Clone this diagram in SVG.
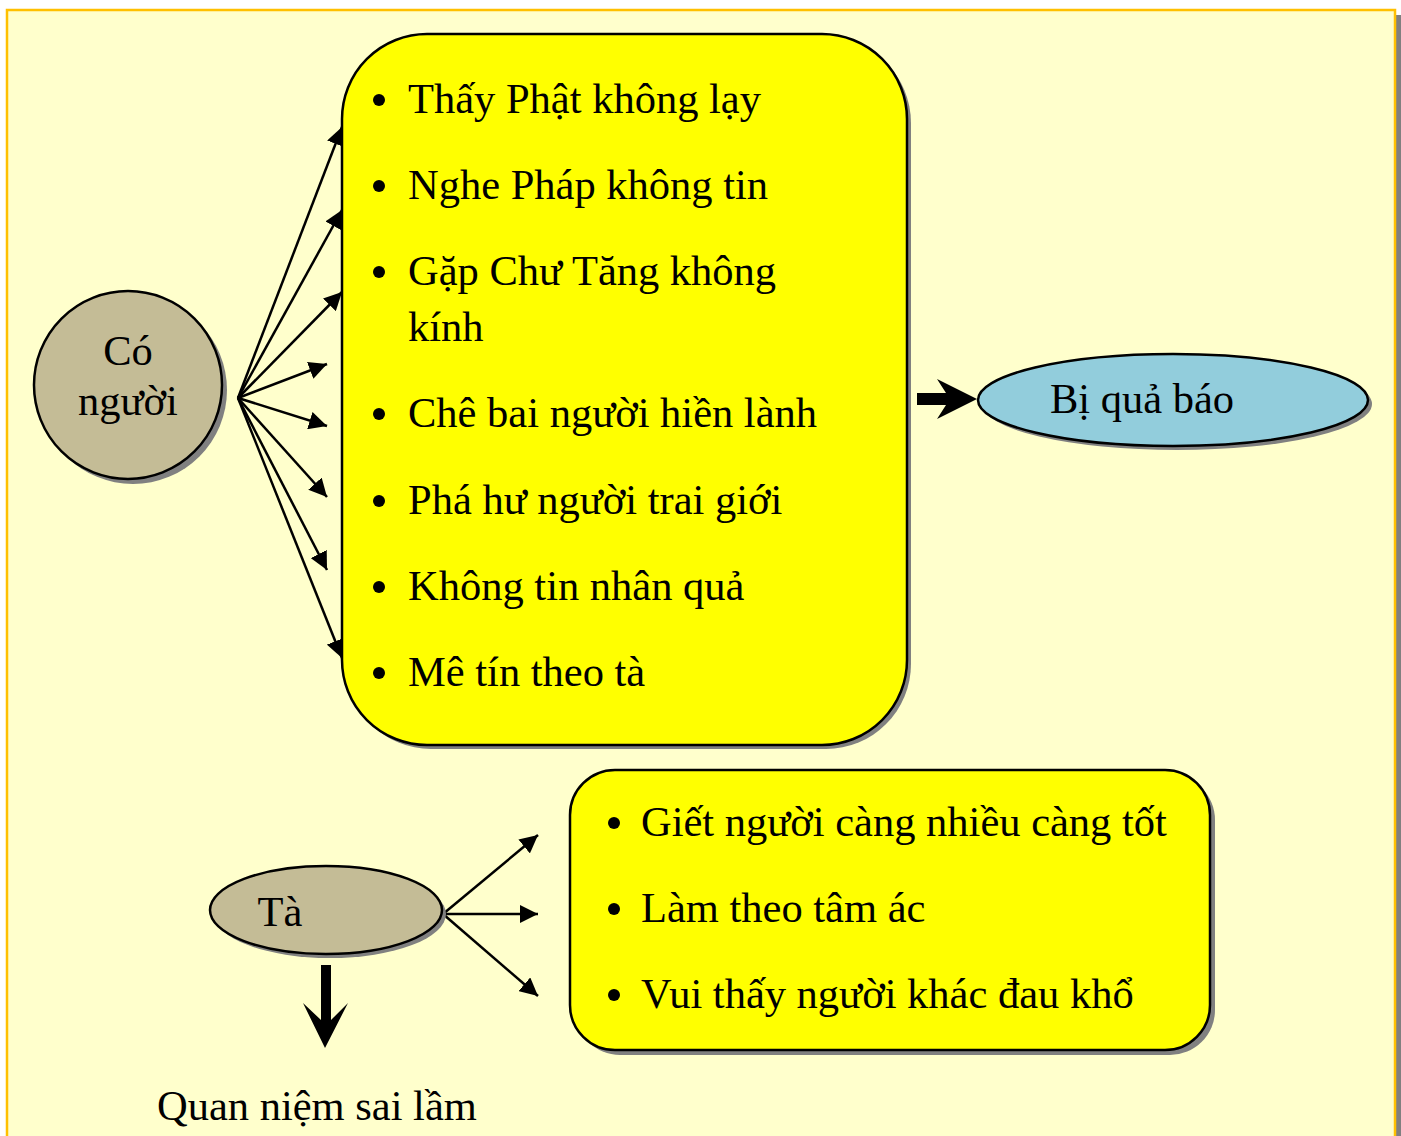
<svg xmlns="http://www.w3.org/2000/svg" width="1401" height="1136" viewBox="0 0 1401 1136">
<defs>
<style>
.t{font-family:"Liberation Serif","Times New Roman",serif;font-size:42.5px;fill:#000}
.sh{fill:#808080}
.box{fill:#FFFF00;stroke:#000;stroke-width:2.5}
</style>
<marker id="ah2" viewBox="0 0 10 10" refX="10" refY="5" markerWidth="18" markerHeight="18" markerUnits="userSpaceOnUse" orient="auto">
<path d="M0,0 L10,5 L0,10 Z" fill="#000"/>
</marker>
</defs>
<rect width="1401" height="1136" fill="#fff"/>
<rect x="1395" y="15" width="6" height="1121" fill="#808080"/>
<rect x="7" y="10" width="1388" height="1140" fill="#FFFFCC" stroke="#FFC000" stroke-width="2.5"/>

<g id="connectors">
<g stroke="#000" stroke-width="2.5" fill="none" marker-end="url(#ah2)">
<path d="M238,398 L342,127"/>
<path d="M238,398 L342,210"/>
<path d="M238,398 L342,292"/>
<path d="M238,398 L327,364"/>
<path d="M238,398 L327,426"/>
<path d="M238,398 L327,497"/>
<path d="M238,398 L327,570"/>
<path d="M238,398 L342,658"/>
<path d="M443,914 L538,835"/>
<path d="M443,914 L538,914"/>
<path d="M443,914 L538,996"/>
</g>
<path d="M917,393 L946,393 L937,379 L977,399 L937,419 L946,405 L917,405 Z" fill="#000"/>
<path d="M321,965 L331,965 L331,1020 L348,1003 L325,1048 L303,1003 L321,1020 Z" fill="#000"/>
</g>

<g id="node-co-nguoi">
<circle cx="133" cy="390" r="94" class="sh"/>
<circle cx="128" cy="385" r="94" fill="#C4BC96" stroke="#000" stroke-width="2.5"/>
<text class="t" x="128" y="365" text-anchor="middle">Có</text>
<text class="t" x="128" y="415" text-anchor="middle">người</text>
</g>

<g id="node-list1">
<rect x="346" y="38" width="565" height="711" rx="85" ry="85" class="sh"/>
<rect x="342" y="34" width="565" height="711" rx="85" ry="85" class="box"/>
<g fill="#000">
<circle cx="379" cy="100" r="6"/>
<circle cx="379" cy="186" r="6"/>
<circle cx="379" cy="272" r="6"/>
<circle cx="379" cy="414" r="6"/>
<circle cx="379" cy="501" r="6"/>
<circle cx="379" cy="587" r="6"/>
<circle cx="379" cy="673" r="6"/>
</g>
<text class="t" x="408" y="113">Thấy Phật không lạy</text>
<text class="t" x="408" y="199">Nghe Pháp không tin</text>
<text class="t" x="408" y="285">Gặp Chư Tăng không</text>
<text class="t" x="408" y="341">kính</text>
<text class="t" x="408" y="427">Chê bai người hiền lành</text>
<text class="t" x="408" y="514">Phá hư người trai giới</text>
<text class="t" x="408" y="600">Không tin nhân quả</text>
<text class="t" x="408" y="686">Mê tín theo tà</text>
</g>

<g id="node-bi-qua-bao">
<ellipse cx="1177" cy="404" rx="195" ry="46" class="sh"/>
<ellipse cx="1173" cy="400" rx="195" ry="46" fill="#92CDDC" stroke="#000" stroke-width="2.5"/>
<text class="t" x="1142" y="413" text-anchor="middle">Bị quả báo</text>
</g>

<g id="node-ta">
<ellipse cx="330" cy="914" rx="116" ry="44" class="sh"/>
<ellipse cx="326" cy="910" rx="116" ry="44" fill="#C4BC96" stroke="#000" stroke-width="2.5"/>
<text class="t" x="280" y="926" text-anchor="middle">Tà</text>
</g>

<g id="node-list2">
<rect x="575" y="775" width="640" height="280" rx="45" ry="45" class="sh"/>
<rect x="570" y="770" width="640" height="280" rx="45" ry="45" class="box"/>
<g fill="#000">
<circle cx="614" cy="823" r="6"/>
<circle cx="614" cy="909" r="6"/>
<circle cx="614" cy="995" r="6"/>
</g>
<text class="t" x="641" y="836">Giết người càng nhiều càng tốt</text>
<text class="t" x="641" y="922">Làm theo tâm ác</text>
<text class="t" x="641" y="1008">Vui thấy người khác đau khổ</text>
</g>

<g id="node-quan-niem">
<text class="t" x="157" y="1120">Quan niệm sai lầm</text>
</g>
</svg>
